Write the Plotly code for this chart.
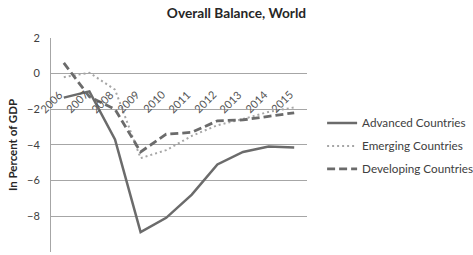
import plotly.graph_objects as go

years = ["2006", "2007", "2008", "2009", "2010", "2011", "2012", "2013", "2014", "2015"]
advanced = [-1.35, -1.0, -3.7, -8.9, -8.1, -6.8, -5.1, -4.4, -4.1, -4.15]
emerging = [-0.2, 0.05, -0.9, -4.75, -4.3, -3.5, -2.9, -2.55, -2.15, -1.9]
developing = [0.6, -1.3, -2.0, -4.4, -3.4, -3.3, -2.65, -2.6, -2.4, -2.2]
y_ticks = [2, 0, -2, -4, -6, -8, -10]

grey = "#6b6b6b"
font = "Lato"

fig = go.Figure()
fig.add_trace(go.Scatter(x=years, y=advanced, mode="lines", name="Advanced Countries", legendgroup="a",
                         line=dict(color=grey, width=2.5)))
fig.add_trace(go.Scatter(x=years, y=emerging, mode="lines", name="Emerging Countries", legendgroup="e",
                         line=dict(color="#a6a6a6", width=2, dash="2px,3px")))
fig.add_trace(go.Scatter(x=years, y=developing, mode="lines", name="Developing Countries", legendgroup="d",
                         line=dict(color=grey, width=2.8, dash="8px,4px")))

for i, yr in enumerate(years):
    fig.add_annotation(x=i, y=0, xref="x", yref="y", text=yr, showarrow=False, textangle=-45,
                       xanchor="right", yanchor="top", xshift=4, yshift=-11,
                       font=dict(size=11, color="#555555", family=font))

fig.add_annotation(x=-0.152, y=0.5, xref="paper", yref="paper", text="<b>In Percent of GDP</b>",
                   showarrow=False, textangle=-90, xanchor="center", yanchor="middle",
                   font=dict(size=11.5, color="#262626", family=font))

ymin, ymax = -10.02, 2
fig.update_layout(
    width=473, height=255,
    margin=dict(l=51, r=166, t=38, b=3, autoexpand=False),
    paper_bgcolor="white", plot_bgcolor="white",
    font=dict(family=font, size=11, color="#404040"),
    title=dict(text="<b>Overall Balance, World</b>", x=0.5, xanchor="center", xref="container",
               y=0.95, yanchor="middle", yref="container",
               font=dict(size=13.7, color="#262626", family=font)),
    showlegend=True,
    legend=dict(x=1.059, y=0.671, xanchor="left", yanchor="top", tracegroupgap=4,
                font=dict(size=11.7, color="#404040", family=font), itemwidth=30,
                bgcolor="rgba(0,0,0,0)"),
    xaxis=dict(type="category", range=[-0.5, len(years) - 0.5], showgrid=False, showline=False,
               ticks="", showticklabels=False, zeroline=False),
    yaxis=dict(range=[ymin, ymax], tickvals=y_ticks, showgrid=True, gridcolor="#a6a6a6", gridwidth=1,
               showline=True, linecolor="#a6a6a6", linewidth=1, zeroline=False, ticks="",
               ticklabelstandoff=8,
               tickfont=dict(size=11, color="#404040")),
)

fig.write_html("out.html", config={"displayModeBar": False},
               post_script="document.body.style.margin='0';document.body.style.overflow='hidden';")
